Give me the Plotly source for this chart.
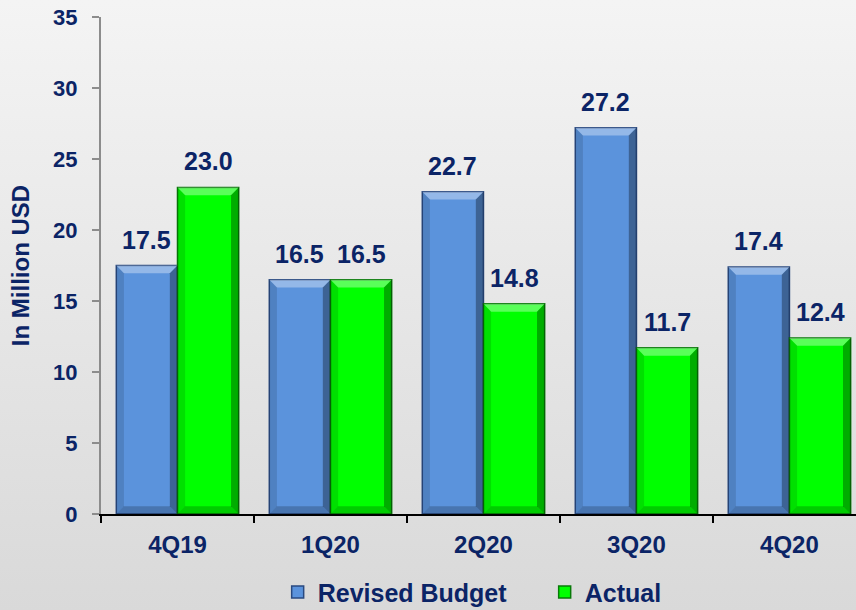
import plotly.graph_objects as go

quarters = ["4Q19", "1Q20", "2Q20", "3Q20", "4Q20"]
revised_budget = [17.5, 16.5, 22.7, 27.2, 17.4]
actual = [23.0, 16.5, 14.8, 11.7, 12.4]
y_ticks = [0, 5, 10, 15, 20, 25, 30, 35]

navy = "#0B2466"
font_family = "Liberation Sans, Arial, sans-serif"


def bold_font(size):
    return dict(size=size, color=navy, family=font_family, weight="bold")


series = [("Revised Budget", revised_budget, "#5B93DC", "#2A4A80", -1),
          ("Actual", actual, "#00FF00", "#087A08", 1)]

BAR_W = 0.4      # bar width in category units (bargap 0.2, two bars)
BEV_X = 0.05     # bevel size, category units
BEV_Y = 0.55     # bevel size, value units


def bevel(path_pts, color):
    path = "M " + " L ".join(f"{x},{y}" for x, y in path_pts) + " Z"
    return dict(type="path", path=path, xref="x", yref="y",
                fillcolor=color, line=dict(width=0), layer="above")


fig = go.Figure()
for name, vals, color, edge, side in series:
    fig.add_trace(go.Bar(x=quarters, y=vals, name=name,
                         marker=dict(color=color, line=dict(color=edge, width=1.5))))
    for i, (q, v) in enumerate(zip(quarters, vals)):
        # value labels sit a bit higher above the bars than plotly's "outside" text
        fig.add_annotation(x=q, y=v, text=f"{v:.1f}", showarrow=False,
                           xshift=side * 30.6, yshift=10, yanchor="bottom",
                           font=bold_font(25))
        # bevelled look of the bars
        x0 = i if side > 0 else i - BAR_W
        x1 = x0 + BAR_W
        fig.add_shape(bevel([(x0, v), (x1, v), (x1 - BEV_X, v - BEV_Y), (x0 + BEV_X, v - BEV_Y)],
                            "rgba(255,255,255,0.35)"))
        fig.add_shape(bevel([(x1, v), (x1, 0), (x1 - BEV_X, BEV_Y), (x1 - BEV_X, v - BEV_Y)],
                            "rgba(0,0,0,0.32)"))
        fig.add_shape(bevel([(x0, v), (x0, 0), (x0 + BEV_X, BEV_Y), (x0 + BEV_X, v - BEV_Y)],
                            "rgba(0,0,0,0.12)"))
        fig.add_shape(bevel([(x0, 0), (x1, 0), (x1 - BEV_X, BEV_Y), (x0 + BEV_X, BEV_Y)],
                            "rgba(0,0,0,0.2)"))

fig.update_layout(
    width=856, height=610,
    margin=dict(l=101, r=0, t=17, b=96, autoexpand=False),
    paper_bgcolor="rgba(0,0,0,0)", plot_bgcolor="rgba(0,0,0,0)",
    font=dict(family=font_family, color=navy, size=18),
    barmode="group", bargap=0.2, bargroupgap=0,
    showlegend=True,
    legend=dict(orientation="h", x=0.234, xanchor="left", y=-0.111, yanchor="top",
                font=bold_font(25), itemwidth=30, entrywidth=222),
)
fig.update_xaxes(range=[-0.5, 4.435], showline=True, linecolor="black", linewidth=2,
                 ticks="outside", tickson="boundaries", ticklen=7, tickcolor="black",
                 tickwidth=2, showgrid=False, tickfont=bold_font(24), ticklabelstandoff=8)
fig.update_yaxes(range=[0, 35], tickvals=y_ticks, showline=True, linecolor="#8C8C8C",
                 linewidth=2, ticks="outside", ticklen=7, tickcolor="#8C8C8C", tickwidth=2,
                 showgrid=False, zeroline=False, tickfont=bold_font(22),
                 ticklabelstandoff=10, ticklabeloverflow="allow",
                 title=dict(text="In Million USD", standoff=17, font=bold_font(24)))

# no page margin, and the soft grey gradient of the original slide behind the chart
page_style = ("document.body.style.margin='0';"
              "document.body.style.overflow='hidden';"
              "document.body.style.background='linear-gradient(#f4f4f4, #d9d9d9)';"
              "document.body.style.height='610px';")
fig.write_html("out.html", post_script=page_style, config={"displayModeBar": False})
